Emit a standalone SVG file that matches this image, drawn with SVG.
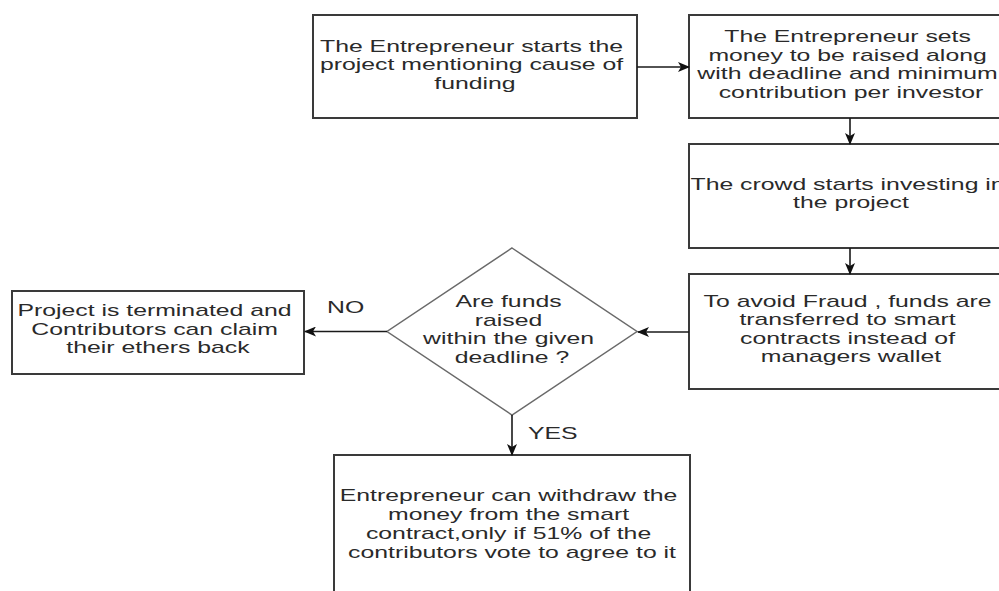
<svg xmlns="http://www.w3.org/2000/svg" width="999" height="591" viewBox="0 0 999 591">
  <style>
    .box { fill: #ffffff; stroke: #3a3a3a; stroke-width: 2; }
    .decision { fill: #ffffff; stroke: #6a6a6a; stroke-width: 1.5; }
    .edge { fill: none; stroke: #1a1a1a; stroke-width: 1.6; marker-end: url(#arrow); }
    .label { font-family: "Liberation Sans", Arial, sans-serif; font-size: 16px; fill: #2a2a2a; text-anchor: middle; }
    .tag { font-family: "Liberation Sans", Arial, sans-serif; font-size: 16px; fill: #2a2a2a; }
  </style>
  <defs>
    <marker id="arrow" viewBox="0 0 12 10" refX="11" refY="5" markerWidth="12" markerHeight="10" markerUnits="userSpaceOnUse" orient="auto">
      <path d="M0,0 L12,5 L0,10 L3,5 z" fill="#111111"/>
    </marker>
  </defs>

  <rect width="999" height="591" fill="#ffffff"/>

  <!-- step 1: project start -->
  <g id="start">
    <rect class="box" x="313" y="15" width="324" height="103"/>
    <text class="label" transform="translate(475 0) scale(1.55 1)">
      <tspan x="0" y="52">The Entrepreneur starts the</tspan>
      <tspan x="0" y="70.5">project mentioning cause of</tspan>
      <tspan x="0" y="89">funding</tspan>
    </text>
  </g>

  <!-- step 2: funding goal -->
  <g id="set-goal">
    <rect class="box" x="689" y="15" width="324" height="103"/>
    <text class="label" transform="translate(851 0) scale(1.55 1)">
      <tspan x="0" y="42.5">The Entrepreneur sets</tspan>
      <tspan x="0" y="61">money to be raised along</tspan>
      <tspan x="0" y="79.5">with deadline and minimum</tspan>
      <tspan x="0" y="98">contribution per investor</tspan>
    </text>
  </g>

  <!-- step 3: crowd investing -->
  <g id="crowd">
    <rect class="box" x="689" y="144" width="324" height="104"/>
    <text class="label" transform="translate(851 0) scale(1.55 1)">
      <tspan x="0" y="190">The crowd starts investing in</tspan>
      <tspan x="0" y="208.5">the project</tspan>
    </text>
  </g>

  <!-- step 4: escrow in contract -->
  <g id="escrow">
    <rect class="box" x="689" y="274" width="324" height="115"/>
    <text class="label" transform="translate(851 0) scale(1.55 1)">
      <tspan x="0" y="307">To avoid Fraud , funds are</tspan>
      <tspan x="0" y="325.5">transferred to smart</tspan>
      <tspan x="0" y="344">contracts instead of</tspan>
      <tspan x="0" y="362.5">managers wallet</tspan>
    </text>
  </g>

  <!-- decision: deadline check -->
  <g id="deadline-check">
    <polygon class="decision" points="512,248 637,331.5 512,415 387,331.5"/>
    <text class="label" transform="translate(512 0) scale(1.55 1)">
      <tspan x="0" y="307.5">Are funds</tspan>
      <tspan x="0" y="326">raised</tspan>
      <tspan x="0" y="344.5">within the given</tspan>
      <tspan x="0" y="363">deadline ?</tspan>
    </text>
  </g>

  <!-- outcome: refund -->
  <g id="terminated">
    <rect class="box" x="12" y="291" width="292" height="83"/>
    <text class="label" transform="translate(158 0) scale(1.55 1)">
      <tspan x="0" y="316.5">Project is terminated and</tspan>
      <tspan x="0" y="335">Contributors can claim</tspan>
      <tspan x="0" y="353.5">their ethers back</tspan>
    </text>
  </g>

  <!-- outcome: withdrawal by vote -->
  <g id="withdraw">
    <rect class="box" x="334" y="455" width="356" height="150"/>
    <text class="label" transform="translate(512 0) scale(1.55 1)">
      <tspan x="0" y="501.5">Entrepreneur can withdraw the</tspan>
      <tspan x="0" y="520.5">money from the smart</tspan>
      <tspan x="0" y="539.5">contract,only if 51% of the</tspan>
      <tspan x="0" y="558.5">contributors vote to agree to it</tspan>
    </text>
  </g>

  <!-- connectors -->
  <g id="connectors">
    <line class="edge" x1="637" y1="67" x2="689" y2="67"/>
    <line class="edge" x1="850" y1="118" x2="850" y2="144"/>
    <line class="edge" x1="850" y1="248" x2="850" y2="274"/>
    <line class="edge" x1="689" y1="332" x2="638" y2="332"/>
    <line class="edge" x1="387" y1="331.5" x2="305" y2="331.5"/>
    <line class="edge" x1="512" y1="415" x2="512" y2="455"/>
    <text class="tag" transform="translate(327 0) scale(1.55 1)" x="0" y="313">NO</text>
    <text class="tag" transform="translate(528 0) scale(1.55 1)" x="0" y="439.5">YES</text>
  </g>
</svg>
